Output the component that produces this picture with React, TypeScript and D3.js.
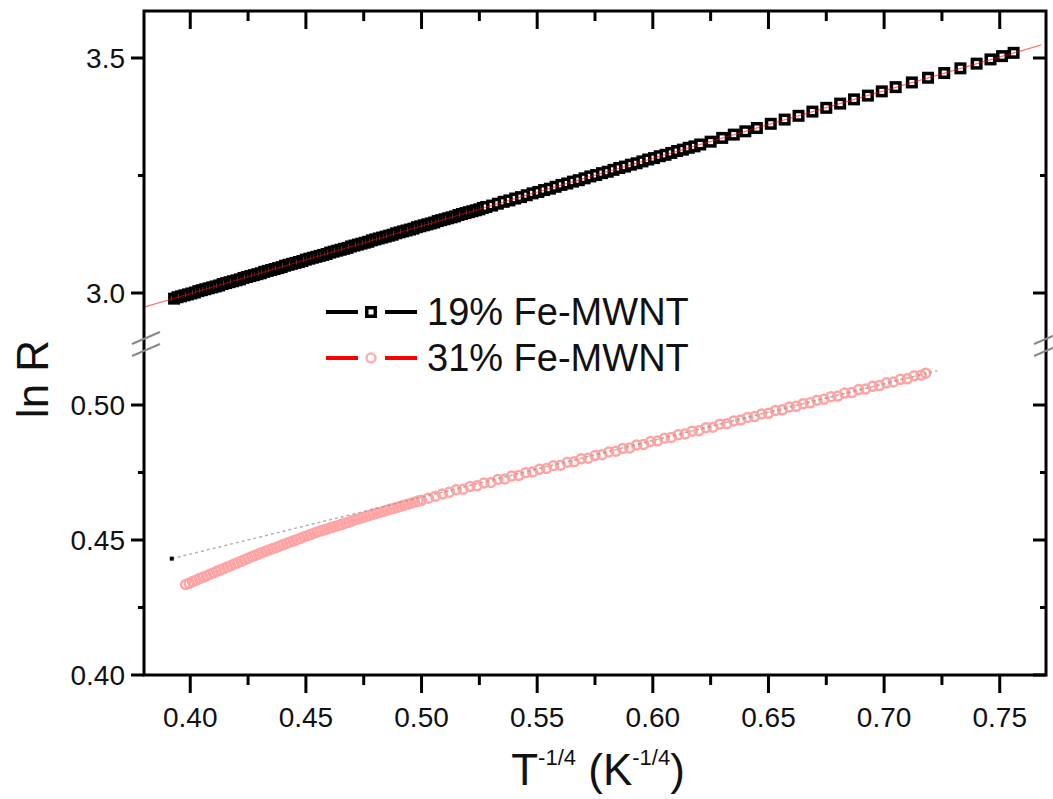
import React from "react";
import * as d3 from "d3";

// ---------- data ----------
const T19 = [
  0.3930, 0.3945, 0.3960, 0.3975, 0.3990, 0.4005, 0.4020, 0.4035, 0.4050, 0.4065,
  0.4080, 0.4095, 0.4110, 0.4125, 0.4140, 0.4155, 0.4170, 0.4185, 0.4200, 0.4215,
  0.4230, 0.4245, 0.4260, 0.4275, 0.4290, 0.4305, 0.4320, 0.4335, 0.4350, 0.4365,
  0.4380, 0.4395, 0.4410, 0.4425, 0.4440, 0.4455, 0.4470, 0.4485, 0.4500, 0.4515,
  0.4530, 0.4545, 0.4560, 0.4575, 0.4590, 0.4605, 0.4620, 0.4635, 0.4650, 0.4665,
  0.4680, 0.4695, 0.4710, 0.4725, 0.4740, 0.4755, 0.4770, 0.4785, 0.4800, 0.4815,
  0.4830, 0.4845, 0.4860, 0.4875, 0.4890, 0.4905, 0.4920, 0.4935, 0.4950, 0.4965,
  0.4980, 0.4995, 0.5010, 0.5025, 0.5040, 0.5055, 0.5070, 0.5085, 0.5100, 0.5115,
  0.5130, 0.5145, 0.5160, 0.5175, 0.5190, 0.5205, 0.5220, 0.5235, 0.5250, 0.5265,
  0.5280, 0.5305, 0.5330, 0.5355, 0.5380, 0.5405, 0.5430, 0.5455, 0.5480, 0.5505,
  0.5530, 0.5555, 0.5580, 0.5605, 0.5630, 0.5655, 0.5680, 0.5705, 0.5730, 0.5755,
  0.5780, 0.5805, 0.5830, 0.5855, 0.5880, 0.5905, 0.5930, 0.5955, 0.5980, 0.6005,
  0.6030, 0.6055, 0.6080, 0.6105, 0.6130, 0.6155, 0.6180, 0.6205, 0.6250, 0.6300,
  0.6350, 0.6400, 0.6450, 0.6510, 0.6570, 0.6630, 0.6690, 0.6750, 0.6810, 0.6870,
  0.6930, 0.6990, 0.7050, 0.7120, 0.7190, 0.7260, 0.7330, 0.7400, 0.7460, 0.7510,
  0.7560,
];
const LNR19 = [
  2.988, 2.991, 2.993, 2.995, 2.997, 2.999, 3.001, 3.004, 3.006, 3.008,
  3.010, 3.012, 3.014, 3.016, 3.019, 3.021, 3.023, 3.025, 3.027, 3.029,
  3.032, 3.034, 3.036, 3.038, 3.040, 3.042, 3.045, 3.047, 3.049, 3.051,
  3.053, 3.055, 3.058, 3.060, 3.062, 3.064, 3.066, 3.068, 3.071, 3.073,
  3.075, 3.077, 3.079, 3.081, 3.083, 3.086, 3.088, 3.090, 3.092, 3.094,
  3.096, 3.099, 3.101, 3.103, 3.105, 3.107, 3.109, 3.112, 3.114, 3.116,
  3.118, 3.120, 3.122, 3.124, 3.127, 3.129, 3.131, 3.133, 3.135, 3.137,
  3.140, 3.142, 3.144, 3.146, 3.148, 3.150, 3.153, 3.155, 3.157, 3.159,
  3.161, 3.163, 3.166, 3.168, 3.170, 3.172, 3.174, 3.176, 3.178, 3.181,
  3.183, 3.186, 3.190, 3.194, 3.197, 3.201, 3.204, 3.208, 3.212, 3.215,
  3.219, 3.222, 3.226, 3.230, 3.233, 3.237, 3.240, 3.244, 3.248, 3.251,
  3.255, 3.258, 3.262, 3.266, 3.269, 3.273, 3.276, 3.280, 3.284, 3.287,
  3.291, 3.294, 3.298, 3.302, 3.305, 3.309, 3.312, 3.316, 3.322, 3.330,
  3.337, 3.344, 3.351, 3.360, 3.369, 3.377, 3.386, 3.394, 3.403, 3.412,
  3.420, 3.429, 3.438, 3.448, 3.458, 3.468, 3.478, 3.488, 3.497, 3.504,
  3.511,
];
const FIT19_T = [0.38, 0.768];
const FIT19_LNR = [2.970, 3.528];

const T31 = [
  0.3980, 0.3995, 0.4010, 0.4025, 0.4040, 0.4055, 0.4070, 0.4085, 0.4100, 0.4115,
  0.4130, 0.4145, 0.4160, 0.4175, 0.4190, 0.4205, 0.4220, 0.4235, 0.4250, 0.4265,
  0.4280, 0.4295, 0.4310, 0.4325, 0.4340, 0.4355, 0.4370, 0.4385, 0.4400, 0.4415,
  0.4430, 0.4445, 0.4460, 0.4475, 0.4490, 0.4505, 0.4520, 0.4535, 0.4550, 0.4565,
  0.4580, 0.4595, 0.4610, 0.4625, 0.4640, 0.4655, 0.4670, 0.4685, 0.4700, 0.4715,
  0.4730, 0.4745, 0.4760, 0.4775, 0.4790, 0.4805, 0.4820, 0.4835, 0.4850, 0.4865,
  0.4880, 0.4895, 0.4910, 0.4925, 0.4940, 0.4955, 0.4970, 0.4985, 0.5000, 0.503,
  0.506, 0.509, 0.512, 0.515, 0.518, 0.521, 0.524, 0.527, 0.530, 0.533,
  0.536, 0.539, 0.542, 0.545, 0.548, 0.551, 0.554, 0.557, 0.560, 0.563,
  0.566, 0.569, 0.572, 0.575, 0.578, 0.581, 0.584, 0.587, 0.590, 0.593,
  0.596, 0.599, 0.602, 0.605, 0.608, 0.611, 0.614, 0.617, 0.620, 0.623,
  0.626, 0.629, 0.632, 0.635, 0.638, 0.641, 0.644, 0.647, 0.650, 0.653,
  0.656, 0.659, 0.662, 0.665, 0.668, 0.671, 0.674, 0.677, 0.680, 0.683,
  0.686, 0.689, 0.692, 0.695, 0.698, 0.701, 0.704, 0.707, 0.710, 0.713,
  0.716, 0.718,
];
const LNR31 = [
  0.4335, 0.4340, 0.4346, 0.4351, 0.4357, 0.4362, 0.4367, 0.4373, 0.4378, 0.4384,
  0.4389, 0.4394, 0.4400, 0.4405, 0.4411, 0.4416, 0.4421, 0.4427, 0.4432, 0.4438,
  0.4443, 0.4448, 0.4453, 0.4458, 0.4463, 0.4468, 0.4472, 0.4477, 0.4482, 0.4487,
  0.4492, 0.4496, 0.4501, 0.4506, 0.4511, 0.4516, 0.4520, 0.4525, 0.4530, 0.4534,
  0.4538, 0.4542, 0.4546, 0.4550, 0.4554, 0.4558, 0.4562, 0.4566, 0.4571, 0.4575,
  0.4579, 0.4583, 0.4587, 0.4591, 0.4595, 0.4599, 0.4602, 0.4606, 0.4610, 0.4614,
  0.4617, 0.4621, 0.4625, 0.4629, 0.4632, 0.4636, 0.4640, 0.4644, 0.4647, 0.4655,
  0.4662, 0.4670, 0.4677, 0.4686, 0.4688, 0.4698, 0.4701, 0.4711, 0.4713, 0.4724,
  0.4726, 0.4737, 0.4739, 0.4749, 0.4752, 0.4762, 0.4765, 0.4775, 0.4777, 0.4788,
  0.4790, 0.4801, 0.4803, 0.4813, 0.4816, 0.4826, 0.4829, 0.4839, 0.4841, 0.4852,
  0.4854, 0.4865, 0.4867, 0.4877, 0.4880, 0.4890, 0.4893, 0.4903, 0.4905, 0.4916,
  0.4918, 0.4929, 0.4931, 0.4941, 0.4944, 0.4954, 0.4957, 0.4967, 0.4969, 0.4980,
  0.4982, 0.4993, 0.4995, 0.5005, 0.5008, 0.5018, 0.5021, 0.5031, 0.5033, 0.5044,
  0.5046, 0.5057, 0.5059, 0.5069, 0.5072, 0.5082, 0.5085, 0.5095, 0.5097, 0.5108,
  0.5110, 0.5118,
];
const FIT31_T = [0.392, 0.723];
const FIT31_LNR = [0.4431, 0.5127];

const X_MAJOR = [0.40, 0.45, 0.50, 0.55, 0.60, 0.65, 0.70, 0.75];
const X_MINOR = [0.425, 0.475, 0.525, 0.575, 0.625, 0.675, 0.725];
const Y_UP_MAJOR = [3.0, 3.5];
const Y_UP_MINOR = [3.25];
const Y_LO_MAJOR = [0.40, 0.45, 0.50];
const Y_LO_MINOR = [0.425, 0.475];

const SERIES_NAMES = ["19% Fe-MWNT", "31% Fe-MWNT"];

// ---------- layout ----------
const W = 1053, H = 799;
const L = 144, R = 1046, TOP = 11, BOT = 675;
const BREAK_UP = 340, BREAK_LO = 351;
const FONT = "'Liberation Sans', Arial, Helvetica, sans-serif";

const x = d3.scaleLinear().domain([0.38, 0.77]).range([L, R]);
const yUp = d3.scaleLinear().domain([2.9, 3.6]).range([BREAK_UP, TOP]);
const yLo = d3.scaleLinear().domain([0.40, 0.52]).range([BOT, BREAK_LO]);

const f2 = d3.format(".2f");
const f1 = d3.format(".1f");

export default function App() {
  const fit19 = d3.line<number>().x((d, i) => x(FIT19_T[i])).y((d) => yUp(d))(FIT19_LNR);
  const fit31 = d3.line<number>().x((d, i) => x(FIT31_T[i])).y((d) => yLo(d))(FIT31_LNR);
  const sq = 8.5;
  const yLeftTicks = [
    ...Y_UP_MAJOR.map((v) => ({ y: yUp(v), major: true, label: f1(v) })),
    ...Y_UP_MINOR.map((v) => ({ y: yUp(v), major: false, label: "" })),
    ...Y_LO_MAJOR.map((v) => ({ y: yLo(v), major: true, label: f2(v) })),
    ...Y_LO_MINOR.map((v) => ({ y: yLo(v), major: false, label: "" })),
  ];
  const xTicks = [
    ...X_MAJOR.map((v) => ({ x: x(v), major: true, label: f2(v) })),
    ...X_MINOR.map((v) => ({ x: x(v), major: false, label: "" })),
  ];
  const legY = [312, 358];
  return (
    <svg width={W} height={H} style={{ position: "absolute", left: 0, top: 0, background: "#fff" }} fontFamily={FONT}>
      <rect x={0} y={0} width={W} height={H} fill="#fff" />
      {/* 31% series */}
      <g>
        {T31.map((t, i) => (
          <circle key={i} cx={x(t)} cy={yLo(LNR31[i])} r={4.5} fill="none" stroke="#ffa4a4" strokeWidth={2.5} />
        ))}
        <path d={fit31 || ""} stroke="#999" strokeWidth={1.5} strokeDasharray="3,3" fill="none" opacity={0.75} />
        <rect x={x(FIT31_T[0]) - 2} y={yLo(FIT31_LNR[0]) - 2} width={4} height={4} fill="#000" />
      </g>
      {/* 19% series */}
      <g>
        {T19.map((t, i) => (
          <rect key={i} x={x(t) - sq / 2} y={yUp(LNR19[i]) - sq / 2} width={sq} height={sq} fill="#fff" stroke="#000" strokeWidth={3.5} />
        ))}
        <path d={fit19 || ""} stroke="#ff0000" strokeWidth={1.2} fill="none" opacity={0.55} />
      </g>
      {/* frame */}
      <rect x={L} y={TOP} width={R - L} height={BOT - TOP} fill="none" stroke="#000" strokeWidth={3} />
      {/* x ticks */}
      {xTicks.map((t, i) => (
        <g key={i}>
          <line x1={t.x} x2={t.x} y1={BOT} y2={BOT + (t.major ? 18 : 10)} stroke="#000" strokeWidth={3} />
          <line x1={t.x} x2={t.x} y1={TOP} y2={TOP + (t.major ? 18 : 10)} stroke="#000" strokeWidth={3} />
          {t.label && (
            <text x={t.x} y={727} textAnchor="middle" fontSize={28} fill="#111">{t.label}</text>
          )}
        </g>
      ))}
      {/* y ticks */}
      {yLeftTicks.map((t, i) => (
        <g key={i}>
          <line x1={L - (t.major ? 13 : 6)} x2={L} y1={t.y} y2={t.y} stroke="#000" strokeWidth={3} />
          <line x1={R - (t.major ? 13 : 6)} x2={R} y1={t.y} y2={t.y} stroke="#000" strokeWidth={3} />
          {t.label && (
            <text x={125} y={t.y + 10} textAnchor="end" fontSize={28} fill="#111">{t.label}</text>
          )}
        </g>
      ))}
      {/* axis break marks */}
      {[L, R].map((bx, i) => (
        <g key={i} stroke="#888" strokeWidth={2}>
          <line x1={bx - 12} y1={344} x2={bx + 16} y2={332} />
          <line x1={bx - 12} y1={356} x2={bx + 16} y2={344} />
        </g>
      ))}
      {/* legend */}
      <g>
        <line x1={326} x2={358} y1={legY[0]} y2={legY[0]} stroke="#000" strokeWidth={4} />
        <line x1={385} x2={417} y1={legY[0]} y2={legY[0]} stroke="#000" strokeWidth={4} />
        <rect x={371 - sq / 2} y={legY[0] - sq / 2} width={sq} height={sq} fill="#fff" stroke="#000" strokeWidth={3.5} />
        <text x={427} y={legY[0] + 13} fontSize={38} fill="#111">{SERIES_NAMES[0]}</text>
        <line x1={326} x2={358} y1={legY[1]} y2={legY[1]} stroke="#ff0000" strokeWidth={4} />
        <line x1={385} x2={417} y1={legY[1]} y2={legY[1]} stroke="#ff0000" strokeWidth={4} />
        <circle cx={371} cy={legY[1]} r={4.5} fill="#fff" stroke="#ffb0b0" strokeWidth={2.5} />
        <text x={427} y={legY[1] + 13} fontSize={38} fill="#111">{SERIES_NAMES[1]}</text>
      </g>
      {/* axis titles */}
      <text transform="translate(48,379) rotate(-90)" textAnchor="middle" fontSize={44} fill="#111">ln R</text>
      <text x={598} y={785} textAnchor="middle" fontSize={44} fill="#111">
        <tspan>T</tspan>
        <tspan fontSize={22} dy={-20}>-1/4</tspan>
        <tspan dy={20}> (K</tspan>
        <tspan fontSize={22} dy={-20}>-1/4</tspan>
        <tspan dy={20}>)</tspan>
      </text>
    </svg>
  );
}
